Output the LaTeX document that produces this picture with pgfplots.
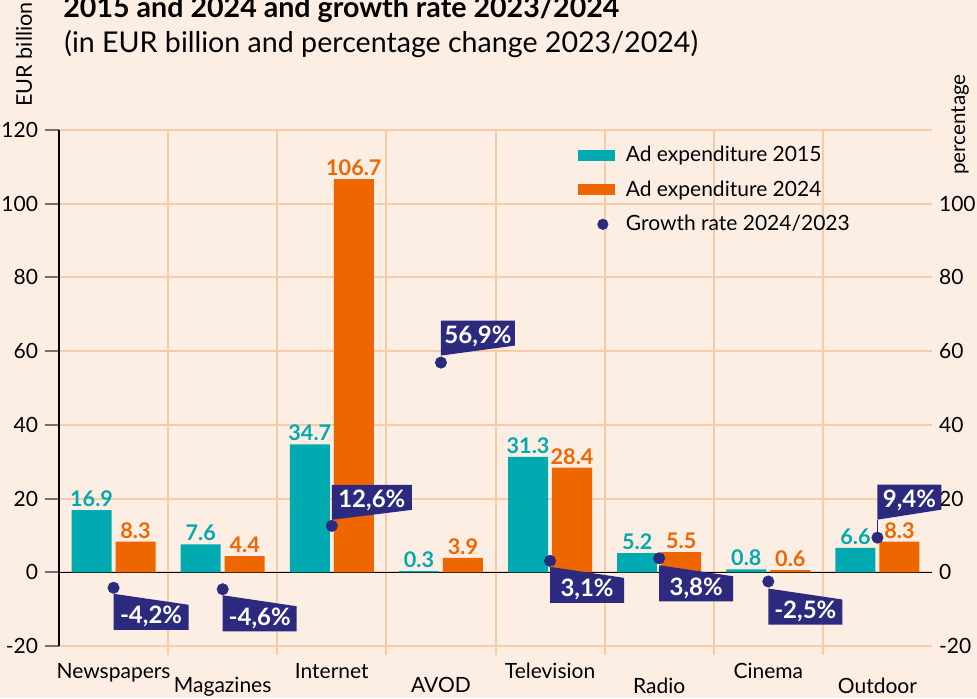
\documentclass[border=0pt]{standalone}
\usepackage{fontspec}
\setmainfont{Lato}
\usepackage{pgfplots}
\usepackage{pgfplotstable}
\pgfplotsset{compat=1.18}
\definecolor{bg}{RGB}{253,238,228}
\definecolor{gridc}{RGB}{248,203,168}
\definecolor{tealc}{RGB}{0,170,176}
\definecolor{orangec}{RGB}{238,102,0}
\definecolor{navy}{RGB}{44,42,126}
\newcommand\flagfont{\bfseries\fontsize{12}{12}\selectfont}
\newcommand\barfont{\bfseries\fontsize{10.8}{10.8}\selectfont}
\newdimen\fgapd
\newdimen\fwd
\newcommand\flag[4]{%
\fgapd=#2pt\relax
\fwd=#3pt\relax
\begin{tikzpicture}
\path[draw=none,fill=none,use as bounding box] (-45pt,-30pt) rectangle (45pt,30pt);
\ifdim#1pt<0pt
 \fill[navy,draw=none] (0pt,-\fgapd) -- (\fwd,-\fgapd-5.5pt) -- (\fwd,-\fgapd-18pt) -- (0pt,-\fgapd-18pt) -- cycle;
 \node[text=white,font=\flagfont,inner sep=0pt,anchor=base,draw=none,fill=none] at (0.5\fwd,-\fgapd-15pt) {#4\%};
 \ifdim\fgapd>4pt \draw[navy,line width=0.6pt] (0pt,0pt) -- (0pt,-\fgapd); \fi
\else
 \fill[navy,draw=none] (0pt,\fgapd) -- (\fwd,\fgapd+5pt) -- (\fwd,\fgapd+17.5pt) -- (0pt,\fgapd+17.5pt) -- cycle;
 \node[text=white,font=\flagfont,inner sep=0pt,anchor=base,draw=none,fill=none] at (0.5\fwd,\fgapd+6pt) {#4\%};
 \ifdim\fgapd>4pt \draw[navy,line width=0.6pt] (0pt,0pt) -- (0pt,\fgapd); \fi
\fi
\end{tikzpicture}}

\pgfplotstableread{
x y15 y24
0 16.9 8.3
1 7.6 4.4
2 34.7 106.7
3 0.3 3.9
4 31.3 28.4
5 5.2 5.5
6 0.8 0.6
7 6.6 8.3
}\bars

\pgfplotstableread{
x g lab dir gap w
0 -4.2 -4,2 -1 3 37.5
1 -4.6 -4,6 -1 3 37
2 12.6 12,6 1 3 40
3 56.9 56,9 1 3.5 37
4 3.1 3,1 -1 3 37
5 3.8 3,8 -1 3.5 37
6 -2.5 -2,5 -1 3.5 37
7 9.4 9,4 1 9 32
}\growth

\begin{document}
\begin{tikzpicture}
\fill[bg] (-29.5pt,-26pt) rectangle (459pt,323pt);
\useasboundingbox (-29.5pt,-26pt) rectangle (459pt,323pt);
\begin{axis}[at={(0pt,0pt)}, anchor=south west, scale only axis,
  width=436.5pt, height=258pt,
  xmin=-0.5, xmax=7.5, ymin=-20, ymax=120, clip=false,
  axis x line*=bottom, axis y line*=left,
  x axis line style={draw=none},
  y axis line style={black, line width=0.75pt},
  xtick={0,2,4,6}, xticklabels={Newspapers,Internet,Television,Cinema},
  xticklabel style={yshift=2pt},
  extra x ticks={1,3,5,7}, extra x tick labels={Magazines,AVOD,Radio,Outdoor},
  extra x tick style={xticklabel style={yshift=-14.25pt}, major tick length=0pt},
  minor xtick={0.5,1.5,...,6.5},
  xminorgrids=true, minor grid style={gridc, line width=1pt},
  ymajorgrids=true, major grid style={gridc, line width=1pt},
  ytick={-20,0,...,120},
  extra y ticks={0}, extra y tick labels={},
  extra y tick style={grid=major, major grid style={black, line width=0.75pt}, major tick length=0pt},
  tick align=outside,
  major x tick style={draw=none},
  minor x tick style={gridc, line width=1pt},
  major y tick style={black!55, line width=1pt},
  minor tick length=4.5pt, major tick length=7pt,
  ticklabel style={font=\fontsize{10.5}{10}\selectfont},
  /pgf/number format/assume math mode=true,
]
\addplot[ybar, bar width=20pt, bar shift=-11pt, fill=tealc, draw=none,
  nodes near coords={\pgfmathprintnumber[fixed,fixed zerofill,precision=1,assume math mode=true]{\pgfplotspointmeta}},
  nodes near coords style={text=tealc, font=\barfont, inner ysep=1.5pt, xshift=-11pt}]
  table[x=x,y=y15]{\bars};
\addplot[ybar, bar width=20pt, bar shift=11pt, fill=orangec, draw=none,
  nodes near coords={\pgfmathprintnumber[fixed,fixed zerofill,precision=1,assume math mode=true]{\pgfplotspointmeta}},
  nodes near coords style={text=orangec, font=\barfont, inner ysep=1.5pt, xshift=11pt}]
  table[x=x,y=y24]{\bars};
\end{axis}
\begin{axis}[at={(0pt,0pt)}, anchor=south west, scale only axis,
  width=436.5pt, height=258pt,
  xmin=-0.5, xmax=7.5, ymin=-20, ymax=120, clip=false,
  axis x line=none, axis y line*=right,
  y axis line style={draw=none},
  ytick={-20,0,...,100}, major tick length=0pt,
  ticklabel style={font=\fontsize{10.5}{10}\selectfont},
  /pgf/number format/assume math mode=true,
  legend style={at={(0.587,0.985)}, anchor=north west, draw=none, fill=none,
    font=\fontsize{10.5}{12}\selectfont, row sep=4pt,
    nodes={inner xsep=5.5pt}},
  legend cell align=left,
]
\addlegendimage{legend image code/.code={\fill[tealc,draw=none] (0pt,-2.75pt) rectangle (18.5pt,2.75pt);}}
\addlegendentry{Ad expenditure 2015}
\addlegendimage{legend image code/.code={\fill[orangec,draw=none] (0pt,-2.75pt) rectangle (18.5pt,2.75pt);}}
\addlegendentry{Ad expenditure 2024}
\addplot[only marks, mark=*, mark size=2.8pt, color=navy, mark options={fill=navy, draw=navy},
  point meta=explicit symbolic,
  visualization depends on={\thisrow{dir}\as\fdir},
  visualization depends on={\thisrow{gap}\as\fgap},
  visualization depends on={\thisrow{w}\as\fw},
  nodes near coords={\flag{\fdir}{\fgap}{\fw}{\pgfplotspointmeta}},
  every node near coord/.append style={anchor=center, inner sep=0pt},
  legend image code/.code={\path[draw=none,fill=none] (0pt,-2.75pt) rectangle (18.5pt,2.75pt); \fill[navy,draw=none] (12.5pt,0pt) circle (2.8pt);}]
  table[x=x, y=g, meta=lab]{\growth};
\addlegendentry{Growth rate 2024/2023}
\end{axis}
\node[anchor=base west, font=\bfseries\fontsize{14.3}{14}\selectfont, inner sep=0pt] at (2pt,314pt) {2015 and 2024 and growth rate 2023/2024};
\node[anchor=base west, font=\fontsize{14.3}{14}\selectfont, inner sep=0pt] at (2.5pt,297pt) {(in EUR billion and percentage change 2023/2024)};
\node[rotate=90, anchor=base west, font=\fontsize{10.8}{11}\selectfont, inner sep=0pt] at (-13.5pt,269.5pt) {EUR billion};
\node[rotate=90, anchor=base west, font=\fontsize{10.3}{11}\selectfont, inner sep=0pt] at (453pt,235.5pt) {percentage};
\end{tikzpicture}
\end{document}
